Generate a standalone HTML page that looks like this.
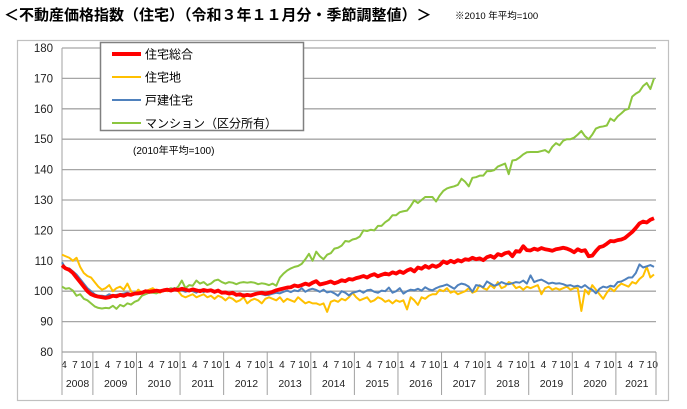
<!DOCTYPE html>
<html><head><meta charset="utf-8"><style>
body{margin:0;background:#fff;}
svg{display:block;font-family:"Liberation Sans","Noto Sans CJK JP",sans-serif;}
</style></head><body>
<svg id="chart" width="687" height="409" viewBox="0 0 687 409">
<text x="4" y="20" font-size="15" font-weight="bold" fill="#000">＜不動産価格指数（住宅）（令和３年１１月分・季節調整値）＞</text>
<text x="455" y="19" font-size="9.5" fill="#000">※2010 年平均=100</text>
<rect x="17.5" y="40.5" width="651" height="360" fill="#fff" stroke="#c0c0c0" stroke-width="1.2"/>
<g id="grid"></g>
<g id="axes"></g>
<g id="series"></g>
<g>
<rect x="100.5" y="42.5" width="203" height="88" fill="#fff" stroke="#808080" stroke-width="1.5"/>
<line x1="112" y1="54" x2="141" y2="54" stroke="#ff0000" stroke-width="4"/>
<text x="145" y="58.5" font-size="12">住宅総合</text>
<line x1="112" y1="77" x2="141" y2="77" stroke="#ffc000" stroke-width="2"/>
<text x="145" y="81.5" font-size="12">住宅地</text>
<line x1="112" y1="100" x2="141" y2="100" stroke="#4f81bd" stroke-width="2"/>
<text x="145" y="104.5" font-size="12">戸建住宅</text>
<line x1="112" y1="123" x2="141" y2="123" stroke="#8cc63f" stroke-width="2"/>
<text x="145" y="127.5" font-size="12">マンション（区分所有）</text>
</g>
<text x="133" y="154" font-size="10">(2010年平均=100)</text>
</svg>
<script>
const yTicks = [80,90,100,110,120,130,140,150,160,170,180];
const years = ["2008","2009","2010","2011","2012","2013","2014","2015","2016","2017","2018","2019","2020","2021"];
const startMonth = 4;
const total = [108.5,107.5,107,106,104.5,103,101.5,100,99,
98.5,98.2,98,97.8,98,98.5,98.3,98.8,98.5,99,98.8,99.2,
99.3,99.5,100,99.8,100,100.2,100,100.3,100.5,100.2,100.6,100.4,
100.8,100.5,100.2,100.6,100.3,100,100.4,100.1,100.3,99.8,100.2,99.5,
99.6,99.2,99.5,98.8,99,98.5,98.8,98.6,99,99.3,99.5,99.2,
99.5,99.8,100.3,100.6,100.9,101.2,101.3,101.9,101.6,102,102.5,102.1,
102.8,103.3,102.2,102.5,102.8,103.2,102.6,103,103.6,103.3,104,103.8,
104.3,104.6,105,104.5,105.2,105.6,104.9,105.4,105.8,105.5,106.2,105.8,
106.5,106,106.8,107.3,106.5,107.8,107.4,108.3,107.7,108.5,108,108.6,
109.8,109.2,110,109.5,110.2,109.8,110.5,110.3,111,110.5,110.8,110.2,
111.2,111.6,111,112.2,111.8,112.5,112.8,111.5,113.2,113,114.8,113.5,
113.4,114,113.6,114.2,113.8,113.6,113.3,113.8,114,114.3,114,113.5,
112.8,113.8,113.2,113.5,111.5,111.7,113.2,114.5,114.8,115.6,116.5,116.4,
116.8,117,117.5,118.5,119.5,120.8,122.3,122.9,122.6,123.5,124];
const land = [112,111.5,111,110,111,108,106,105,104.5,
103,101.5,100.5,101,102,100,101,101.5,100.5,102.5,100,99,
100.5,99.5,100,100.5,101,100,99.5,100.5,100,100.5,101,100,
98.5,98,98.5,99,98,98.5,99,98,98.5,97.5,98.5,98,
97,98,97.5,96.5,97,98,96,97,97.5,97,96,97.5,
98,97.5,97,98,96.5,97.5,97,96.5,98,97,96,96.5,
96,96,95.5,96,93.2,96.5,97,96.5,97.5,97,98,99.5,
98,97,97.5,98,96.5,97,98,97.5,96.5,97,96,97,
96.5,97,94,98,97,95.5,98,97.5,98.5,99,99,100.5,
100,101,99.5,100,99,99.5,100,101,99.5,100,102,101,
100.5,102,101,103,101,101.5,103,102.5,101,101.5,100.5,101.5,
101,101.5,102,99,101,101.5,100.5,101,100.5,101,101.5,100.5,
101,101,93.5,100.5,99,102,100.5,99,97.5,99.5,101,100,
101.5,102.5,102,101.5,103,102.5,104,105,108,104.5,105.5];
const houses = [109.5,107.5,107.5,106.5,105.5,104,102.5,101,100,
99,98.5,98.5,98.3,99,98.5,98.8,99,99.2,99.5,99,99.3,
99.5,99.8,100,99.5,100.2,100,99.8,100.3,100.5,100.6,101,100.5,
100.3,99.8,100.2,100,99.5,100.5,99.7,100.2,100.5,99.5,100,99.7,
99.5,99.2,99,98.7,98.5,99,98.6,98.4,98.8,99.2,99,98.7,
98.8,99.2,99.5,99.3,99.8,100.2,99.7,100.3,100,101,99.8,100.5,
100.8,100.4,99.8,100.5,99.6,99.9,99.3,98.5,100,99.5,98.6,99.5,
99.8,100.2,99.5,100.3,100.5,99.8,99.5,100.2,100,101.2,99.5,100,
101,99.2,100,100.5,100.3,100.8,100.2,101.3,100.6,100.3,101,101.5,
101.8,102.2,101.5,100.8,102,102.5,102.2,101.5,99.8,102,101.8,101.3,
103.2,102.5,101.8,102.2,103,102.5,102.3,102.6,103,102.8,103.5,102.5,
105.2,103,103.5,103.8,103.2,102.5,102.8,102.5,102.6,102.3,101.8,102,
101.5,101.8,101.2,102,101,100.5,99.3,100.8,101.5,101.2,101.8,101.5,
103,103.2,103.8,104.5,104.5,106,108.8,107.8,108.2,108.6,108];
const condo = [101.5,100.8,101,100.2,98.5,99,97.5,97,96,
95,94.5,94.3,94.5,94.4,95.2,94.2,95.5,95,96,95.6,96.5,
97,98.5,99,99.5,99.5,99.3,99.8,100,100.5,101,100.5,101.5,
103.5,101,102,101.8,103.5,102.5,103,102,102.5,103.5,103.8,103,
102.5,103,102.8,102.3,102.8,103,102.8,103,102.8,102.3,102.6,102.4,
102,102.5,101.8,104.5,105.8,106.8,107.5,108,108.3,109,110.5,112.3,
110,113,111.5,110.5,112,112.5,114,114.3,115,116.5,116.3,117,
117.3,118,120,119.8,120.2,120,121.5,121.5,122.7,123.5,125,125,
126,126.3,126.5,128,129.9,129,130,131,131,131,129.5,131.5,
133,133.8,134.2,134.5,135,137,136,134.5,137.3,137.5,138,138,
139.5,139.5,139.8,141,141.5,142,138.5,143,143.2,144,145,145.7,
145.8,145.8,145.8,146.1,146.4,145.6,147.5,148.7,148,149.5,150,150,
150.5,151.5,152.7,151,150,151.5,153.5,154,154.2,154.5,156.8,156,
157.5,158.5,159.6,160,164,165,165.7,167.5,168.5,166.5,170];

const NS="http://www.w3.org/2000/svg";
const X0=62, X1=654, Y0=352, Y1=48;
const nM = total.length;
function xOf(i){return X0 + i*(X1-X0)/(nM-1);}
function yOf(v){return Y0 - (v-80)*(Y0-Y1)/100;}
function mk(tag,attrs,parent){const e=document.createElementNS(NS,tag);for(const k in attrs)e.setAttribute(k,attrs[k]);parent.appendChild(e);return e;}
const grid=document.getElementById('grid'), axes=document.getElementById('axes'), ser=document.getElementById('series');
yTicks.forEach(t=>{
  const y=yOf(t);
  const l=mk('line',{x1:X0,x2:656,y1:y,y2:y,stroke:t===80?'#a0a0a0':'#a6a6a6','stroke-width':1.3},grid);
  
  
  const tx=mk('text',{x:53,y:y+4,'font-size':11.5,'text-anchor':'end',fill:'#222'},axes);
  tx.textContent=t;
  
  
});
mk('line',{x1:X0,x2:X0,y1:Y1,y2:Y0,stroke:'#a0a0a0','stroke-width':1},axes);
for(let i=0;i<nM;i++){
  const mo=((startMonth-1+i)%12)+1;
  if(mo===1||mo===4||mo===7||mo===10){
    const tx=mk('text',{x:xOf(i)+2,y:368,'font-size':10,'text-anchor':'middle',fill:'#222'},axes);
    tx.textContent=mo;
    
    
  }
  if(mo===1||i===0){
    const bx=i===0?X0:xOf(i)-1.8;
    const l=mk('line',{x1:bx,x2:bx,y1:Y0,y2:395,stroke:'#a0a0a0','stroke-width':1},axes);
    
    
  }
}
mk('line',{x1:656,x2:656,y1:Y0,y2:395,stroke:'#a0a0a0','stroke-width':1},axes);
years.forEach((yr,k)=>{
  const sIdx = k===0?0:(12-startMonth+1)+(k-1)*12;
  const eIdx = Math.min(nM-1, (12-startMonth+1)+k*12-1);
  const tx=mk('text',{x:(xOf(sIdx)+xOf(eIdx))/2+1,y:387,'font-size':10.5,'text-anchor':'middle',fill:'#222'},axes);
  tx.textContent=yr;
  
  
});
function drawLine(arr,color,w,name){
  const d=arr.map((v,i)=>(i?'L':'M')+xOf(i).toFixed(2)+' '+yOf(v).toFixed(2)).join(' ');
  const p=mk('path',{d:d,fill:'none',stroke:color,'stroke-width':w,'stroke-linejoin':'round'},ser);
  
  
}
drawLine(condo,'#8cc63f',2,'series-condominium');
drawLine(land,'#ffc000',2,'series-residential-land');
drawLine(houses,'#4f81bd',2,'series-detached-houses');
drawLine(total,'#ff0000',3.8,'series-residential-total');
</script>
</body></html>
